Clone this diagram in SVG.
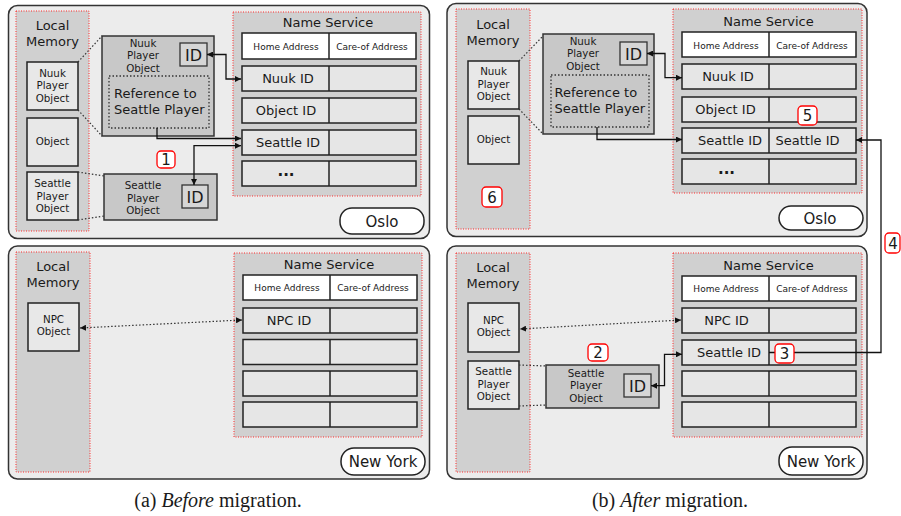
<svg xmlns="http://www.w3.org/2000/svg" width="901" height="516" viewBox="0 0 901 516">
<defs>
<style>
text{font-family:"DejaVu Sans","Liberation Sans",sans-serif;fill:#1a1a1a}
.panel{fill:#ececec;stroke:#333;stroke-width:1.5}
.lm{fill:#d0d0d0;stroke:#ff2a2a;stroke-width:1;stroke-dasharray:1 1.5}
.box{fill:#e8e8e8;stroke:#222;stroke-width:1.5}
.exp{fill:#c8c8c8;stroke:#333;stroke-width:1.5}
.idb{fill:#d6d6d6;stroke:#333;stroke-width:1.3}
.ref{fill:none;stroke:#333;stroke-width:1.3;stroke-dasharray:1.5 2}
.hdr{fill:#fff;stroke:#222;stroke-width:1.5}
.row{fill:#e6e6e6;stroke:#222;stroke-width:1.5}
.sep{stroke:#222;stroke-width:1.5}
.city{fill:#fff;stroke:#222;stroke-width:1.5}
.badge{fill:#fff;stroke:#ff0000;stroke-width:1.3}
.dot{fill:none;stroke:#333;stroke-width:1.2;stroke-dasharray:1.5 2}
.conn{fill:none;stroke:#111;stroke-width:1.3}
.t13{font-size:13px;text-anchor:middle}
.t10{font-size:10.3px;text-anchor:middle}
.t9{font-size:9px;text-anchor:middle}
.tid{font-size:16px;text-anchor:middle}
.tc{font-size:15px;text-anchor:middle}
.tb{font-size:15px;text-anchor:middle}
.cap{font-family:"Liberation Serif","Times New Roman",serif;font-size:20px;text-anchor:middle}
</style>
<marker id="ah" viewBox="0 0 6 6" refX="6" refY="3" markerWidth="6" markerHeight="6" orient="auto-start-reverse" markerUnits="userSpaceOnUse"><path d="M0,0 L6,3 L0,6 z" fill="#111"/></marker>
</defs>

<!-- ===== Panel A top (Oslo) ===== -->
<g id="a-oslo">
<rect class="panel" x="8.5" y="5.5" width="421" height="233" rx="9"/>
</g>
<g id="a-oslo-lm">
<rect class="lm" x="16" y="11" width="73" height="220"/>
<text class="t13" x="52.5" y="30">Local</text>
<text class="t13" x="52.5" y="46">Memory</text>
</g>
<g id="a-oslo-nuuk">
<rect class="box" x="27" y="62" width="51" height="48"/>
<text class="t10" x="52.5" y="76.8">Nuuk</text>
<text class="t10" x="52.5" y="89.3">Player</text>
<text class="t10" x="52.5" y="101.8">Object</text>
</g>
<g id="a-oslo-object">
<rect class="box" x="27" y="118" width="51" height="48"/>
<text class="t10" x="52.5" y="144.5">Object</text>
</g>
<g id="a-oslo-seattle">
<rect class="box" x="27" y="172" width="51" height="48"/>
<text class="t10" x="52.5" y="187">Seattle</text>
<text class="t10" x="52.5" y="199.5">Player</text>
<text class="t10" x="52.5" y="212">Object</text>
</g>
<g id="a-oslo-nuuk-exp">
<rect class="exp" x="102" y="36" width="112" height="100"/>
<text class="t10" x="143" y="46.5">Nuuk</text>
<text class="t10" x="143" y="59">Player</text>
<text class="t10" x="143" y="71.5">Object</text>
<rect class="idb" x="180" y="43" width="27" height="23"/>
<text class="tid" x="193.5" y="60.5">ID</text>
<rect class="ref" x="109" y="76" width="100" height="52"/>
<text x="114" y="98" style="font-size:13px">Reference to</text>
<text x="114" y="114" style="font-size:13px">Seattle Player</text>
</g>
<g id="a-oslo-seattle-exp">
<rect class="exp" x="104" y="174" width="113" height="46"/>
<text class="t10" x="143" y="189">Seattle</text>
<text class="t10" x="143" y="201.5">Player</text>
<text class="t10" x="143" y="214">Object</text>
<rect class="idb" x="182" y="185" width="26" height="23"/>
<text class="tid" x="195" y="202.5">ID</text>
</g>
<g id="a-oslo-ns">
<rect class="lm" x="233" y="12" width="188" height="184"/>
<text class="t13" x="328" y="27">Name Service</text>
<rect class="hdr" x="242" y="33" width="174" height="26"/><line class="sep" x1="329" y1="33" x2="329" y2="59"/>
<text class="t9" x="286" y="49.5">Home Address</text>
<text class="t9" x="372" y="49.5">Care-of Address</text>
<rect class="row" x="242" y="66" width="174" height="25"/><line class="sep" x1="329" y1="66" x2="329" y2="91"/>
<text class="t13" x="288" y="83">Nuuk ID</text>
<rect class="row" x="242" y="98" width="174" height="25"/><line class="sep" x1="329" y1="98" x2="329" y2="123"/>
<text class="t13" x="286" y="115">Object ID</text>
<rect class="row" x="242" y="130" width="174" height="25"/><line class="sep" x1="329" y1="130" x2="329" y2="155"/>
<text class="t13" x="288" y="147">Seattle ID</text>
<rect class="row" x="242" y="161" width="174" height="25"/><line class="sep" x1="329" y1="161" x2="329" y2="186"/>
<text class="tb" x="286" y="176" font-weight="bold">...</text>
</g>
<g id="a-oslo-city">
<rect class="city" x="340" y="208" width="84" height="26" rx="12"/>
<text class="tc" x="382" y="226.5">Oslo</text>
</g>

<!-- ===== Panel A bottom (New York) ===== -->
<g id="a-ny">
<rect class="panel" x="8.5" y="246" width="421" height="233" rx="9"/>
</g>
<g id="a-ny-lm">
<rect class="lm" x="16" y="252" width="74" height="220"/>
<text class="t13" x="53" y="270.7">Local</text>
<text class="t13" x="53" y="287">Memory</text>
</g>
<g id="a-ny-npc">
<rect class="box" x="28" y="303" width="51" height="48"/>
<text class="t10" x="53.5" y="322.5">NPC</text>
<text class="t10" x="53.5" y="335">Object</text>
</g>
<g id="a-ny-ns">
<rect class="lm" x="234" y="253" width="188" height="184"/>
<text class="t13" x="329" y="268.5">Name Service</text>
<rect class="hdr" x="243" y="275" width="174" height="25"/><line class="sep" x1="330" y1="275" x2="330" y2="300"/>
<text class="t9" x="287" y="291">Home Address</text>
<text class="t9" x="373" y="291">Care-of Address</text>
<rect class="row" x="243" y="308" width="174" height="25"/><line class="sep" x1="330" y1="308" x2="330" y2="333"/>
<text class="t13" x="289" y="324.5">NPC ID</text>
<rect class="row" x="243" y="339.5" width="174" height="25"/><line class="sep" x1="330" y1="339.5" x2="330" y2="364.5"/>
<rect class="row" x="243" y="371" width="174" height="25"/><line class="sep" x1="330" y1="371" x2="330" y2="396"/>
<rect class="row" x="243" y="402" width="174" height="25"/><line class="sep" x1="330" y1="402" x2="330" y2="427"/>
</g>
<g id="a-ny-city">
<rect class="city" x="341" y="448" width="84" height="27" rx="13"/>
<text class="tc" x="383" y="466.5">New York</text>
</g>

<!-- ===== Panel B top (Oslo) ===== -->
<g id="b-oslo">
<rect class="panel" x="447" y="3.5" width="420" height="233" rx="9"/>
</g>
<g id="b-oslo-lm">
<rect class="lm" x="456" y="9" width="74" height="220"/>
<text class="t13" x="493" y="28.5">Local</text>
<text class="t13" x="493" y="44.5">Memory</text>
</g>
<g id="b-oslo-nuuk">
<rect class="box" x="468" y="61" width="51" height="48"/>
<text class="t10" x="493.5" y="75.2">Nuuk</text>
<text class="t10" x="493.5" y="87.7">Player</text>
<text class="t10" x="493.5" y="100.2">Object</text>
</g>
<g id="b-oslo-object">
<rect class="box" x="468" y="116" width="51" height="48"/>
<text class="t10" x="493.5" y="143">Object</text>
</g>
<g id="b-oslo-nuuk-exp">
<rect class="exp" x="543" y="34" width="111" height="100"/>
<text class="t10" x="583" y="44.8">Nuuk</text>
<text class="t10" x="583" y="57.3">Player</text>
<text class="t10" x="583" y="69.8">Object</text>
<rect class="idb" x="620" y="42" width="27" height="23"/>
<text class="tid" x="633.5" y="59.5">ID</text>
<rect class="ref" x="551" y="75" width="98" height="52"/>
<text x="554.5" y="97" style="font-size:13px">Reference to</text>
<text x="554.5" y="113" style="font-size:13px">Seattle Player</text>
</g>
<g id="b-oslo-ns">
<rect class="lm" x="673" y="9" width="189" height="184"/>
<text class="t13" x="768.5" y="25.5">Name Service</text>
<rect class="hdr" x="682" y="32" width="174" height="25"/><line class="sep" x1="769" y1="32" x2="769" y2="57"/>
<text class="t9" x="726" y="48.5">Home Address</text>
<text class="t9" x="812" y="48.5">Care-of Address</text>
<rect class="row" x="682" y="64" width="174" height="25"/><line class="sep" x1="769" y1="64" x2="769" y2="89"/>
<text class="t13" x="728" y="81">Nuuk ID</text>
<rect class="row" x="682" y="97" width="174" height="25"/><line class="sep" x1="769" y1="97" x2="769" y2="122"/>
<text class="t13" x="725.5" y="114">Object ID</text>
<rect class="row" x="682" y="128" width="174" height="25"/><line class="sep" x1="769" y1="128" x2="769" y2="153"/>
<text class="t13" x="730" y="145">Seattle ID</text>
<text class="t13" x="807.5" y="145">Seattle ID</text>
<rect class="row" x="682" y="159" width="174" height="25"/><line class="sep" x1="769" y1="159" x2="769" y2="184"/>
<text class="tb" x="726.5" y="174" font-weight="bold">...</text>
</g>
<g id="b-oslo-city">
<rect class="city" x="779" y="206" width="84" height="24" rx="12"/>
<text class="tc" x="820" y="223.5">Oslo</text>
</g>

<!-- ===== Panel B bottom (New York) ===== -->
<g id="b-ny">
<rect class="panel" x="447" y="246" width="420" height="233" rx="9"/>
</g>
<g id="b-ny-lm">
<rect class="lm" x="456" y="253" width="74" height="219"/>
<text class="t13" x="493" y="271.8">Local</text>
<text class="t13" x="493" y="287.8">Memory</text>
</g>
<g id="b-ny-npc">
<rect class="box" x="468" y="303" width="51" height="49"/>
<text class="t10" x="493.5" y="323.5">NPC</text>
<text class="t10" x="493.5" y="336">Object</text>
</g>
<g id="b-ny-seattle">
<rect class="box" x="468" y="361" width="51" height="48"/>
<text class="t10" x="493.5" y="375.2">Seattle</text>
<text class="t10" x="493.5" y="387.7">Player</text>
<text class="t10" x="493.5" y="400.2">Object</text>
</g>
<g id="b-ny-seattle-exp">
<rect class="exp" x="546" y="365" width="113" height="43"/>
<text class="t10" x="586" y="376.8">Seattle</text>
<text class="t10" x="586" y="389.3">Player</text>
<text class="t10" x="586" y="401.8">Object</text>
<rect class="idb" x="624" y="374" width="27" height="23"/>
<text class="tid" x="637.5" y="391.5">ID</text>
</g>
<g id="b-ny-ns">
<rect class="lm" x="673" y="253" width="189" height="184"/>
<text class="t13" x="768.5" y="269.5">Name Service</text>
<rect class="hdr" x="682" y="276" width="174" height="25"/><line class="sep" x1="769" y1="276" x2="769" y2="301"/>
<text class="t9" x="726" y="292">Home Address</text>
<text class="t9" x="812" y="292">Care-of Address</text>
<rect class="row" x="682" y="308" width="174" height="25"/><line class="sep" x1="769" y1="308" x2="769" y2="333"/>
<text class="t13" x="726.5" y="325">NPC ID</text>
<rect class="row" x="682" y="340" width="174" height="25"/><line class="sep" x1="769" y1="340" x2="769" y2="365"/>
<text class="t13" x="729" y="357">Seattle ID</text>
<rect class="row" x="682" y="371" width="174" height="25"/><line class="sep" x1="769" y1="371" x2="769" y2="396"/>
<rect class="row" x="682" y="402" width="174" height="25"/><line class="sep" x1="769" y1="402" x2="769" y2="427"/>
</g>
<g id="b-ny-city">
<rect class="city" x="779" y="447" width="84" height="28" rx="13"/>
<text class="tc" x="821" y="466.5">New York</text>
</g>

<!-- ===== Connectors ===== -->
<g id="connectors">
<!-- A -->
<line class="dot" x1="78" y1="62" x2="102" y2="36"/>
<line class="dot" x1="78" y1="110" x2="102" y2="136"/>
<line class="dot" x1="78" y1="172" x2="104" y2="176"/>
<line class="dot" x1="78" y1="220" x2="104" y2="216"/>
<path class="conn" d="M241 79 H226 V54.5 H207" marker-start="url(#ah)" marker-end="url(#ah)"/>
<path class="conn" d="M157 128 V138.5 H241" marker-end="url(#ah)"/>
<path class="conn" d="M241 145.7 H194 V185" marker-start="url(#ah)" marker-end="url(#ah)"/>
<path class="dot" d="M242 320 L80 328" marker-start="url(#ah)" marker-end="url(#ah)"/>
<!-- B -->
<line class="dot" x1="519" y1="61" x2="543" y2="36"/>
<line class="dot" x1="519" y1="109" x2="543" y2="134"/>
<line class="dot" x1="519" y1="365" x2="546" y2="366"/>
<line class="dot" x1="519" y1="406" x2="546" y2="405"/>
<path class="conn" d="M682 77.7 H665 V53.5 H647" marker-start="url(#ah)" marker-end="url(#ah)"/>
<path class="conn" d="M597 127 V139.5 H682" marker-end="url(#ah)"/>
<path class="conn" d="M769 352.5 H881 V140 H856" marker-end="url(#ah)"/>
<path class="conn" d="M682 354.3 H664.5 V385.7 H651" marker-start="url(#ah)" marker-end="url(#ah)"/>
<path class="dot" d="M681 320 L520 329" marker-start="url(#ah)" marker-end="url(#ah)"/>
</g>

<!-- ===== Badges ===== -->
<g id="badge-1"><rect class="badge" x="157" y="151" width="18" height="17" rx="4"/><text class="tb" x="166" y="165">1</text></g>
<g id="badge-2"><rect class="badge" x="588" y="344" width="20" height="17" rx="4"/><text class="tb" x="598" y="358">2</text></g>
<g id="badge-3"><rect class="badge" x="775" y="344" width="19" height="19" rx="4"/><text class="tb" x="784.5" y="359">3</text></g>
<g id="badge-4"><rect class="badge" x="885" y="233" width="15" height="20" rx="4"/><text class="tb" x="893" y="248.5">4</text></g>
<g id="badge-5"><rect class="badge" x="798" y="106" width="19" height="19" rx="4"/><text class="tb" x="807.5" y="121">5</text></g>
<g id="badge-6"><rect class="badge" x="482" y="187" width="20" height="20" rx="4"/><text class="tb" x="492" y="202.5">6</text></g>

<!-- ===== Captions ===== -->
<text class="cap" x="218" y="507">(a) <tspan font-style="italic">Before</tspan> migration.</text>
<text class="cap" x="670" y="507">(b) <tspan font-style="italic">After</tspan> migration.</text>
</svg>
